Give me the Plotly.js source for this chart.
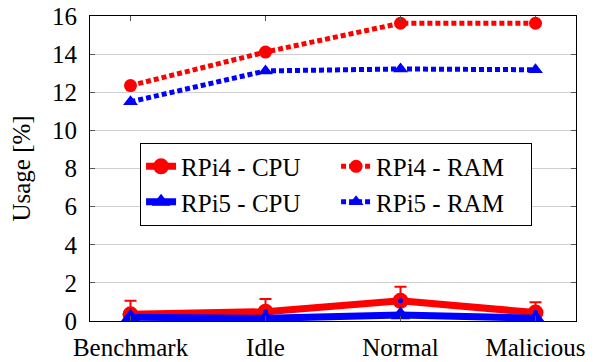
<!DOCTYPE html>
<html><head><meta charset="utf-8">
<script src="https://cdn.plot.ly/plotly-3.0.1.min.js"></script>
</head><body style="margin:0;background:#fff">
<div style="position:absolute;left:0;top:0;font-family:'Liberation Serif';font-size:25px;color:rgba(255,255,255,0)">.</div>
<div id="chart" style="width:596px;height:362px"></div>
<script>
const categories = ["Benchmark", "Idle", "Normal", "Malicious"];
const rpi4Cpu = [0.35, 0.49, 1.06, 0.44];
const rpi4CpuErr = [0.71, 0.66, 0.74, 0.54];
const rpi5Cpu = [0.2, 0.14, 0.31, 0.15];
const rpi4Ram = [12.35, 14.11, 15.62, 15.62];
const rpi5Ram = [11.5, 13.12, 13.22, 13.18];
const yTicks = [0, 2, 4, 6, 8, 10, 12, 14, 16];

const RED = "#ff0000", BLUE = "#0000ff";
const dots = "5px,3px";

const traces = [
  {name: "RPi4 - RAM", x: categories, y: rpi4Ram, mode: "lines+markers", legendrank: 2,
   line: {color: RED, width: 5, dash: dots},
   marker: {symbol: "circle", size: 13, color: RED}},
  {name: "RPi5 - RAM", x: categories, y: rpi5Ram, mode: "lines+markers", legendrank: 4,
   line: {color: BLUE, width: 5, dash: dots},
   marker: {symbol: "triangle-up", size: 13, color: BLUE}},
  {name: "RPi4 - CPU", x: categories, y: rpi4Cpu, mode: "lines+markers", legendrank: 1,
   line: {color: RED, width: 7},
   marker: {symbol: "circle", size: 16, color: RED},
   error_y: {type: "data", array: rpi4CpuErr, arrayminus: rpi4CpuErr.map(() => 0), symmetric: false,
             color: RED, thickness: 2, width: 6}},
  {x: categories, y: rpi4Cpu, mode: "markers", showlegend: false, hoverinfo: "skip",
   marker: {symbol: "circle", size: 5, color: BLUE}},
  {name: "RPi5 - CPU", x: categories, y: rpi5Cpu, mode: "lines+markers", legendrank: 3,
   line: {color: BLUE, width: 7},
   marker: {symbol: "triangle-up", size: 17, color: BLUE}}
];

Plotly.newPlot("chart", traces, {
  width: 596, height: 362,
  margin: {l: 90, r: 20, t: 16, b: 41},
  paper_bgcolor: "#fff", plot_bgcolor: "#fff",
  font: {family: "Liberation Serif", size: 25, color: "#000"},
  showlegend: true,
  legend: {
    x: 0.103, y: 0.585, xanchor: "left", yanchor: "top",
    orientation: "h", entrywidth: 150, entrywidthmode: "pixels",
    bgcolor: "#fff", bordercolor: "#000", borderwidth: 1, tracegroupgap: 0,
    font: {family: "Liberation Serif", size: 25, color: "#000"}
  },
  xaxis: {
    type: "category", categoryorder: "array", categoryarray: categories,
    range: [-0.3, 3.3], showgrid: false, zeroline: false,
    showline: true, linecolor: "#000", linewidth: 1, mirror: "ticks",
    ticks: "inside", ticklen: 5, tickcolor: "#555", tickwidth: 1,
    ticklabelstandoff: 4,
    tickfont: {family: "Liberation Serif", size: 25, color: "#000"}
  },
  yaxis: {
    range: [0, 16], tickvals: yTicks, ticktext: yTicks.map(String),
    showgrid: true, gridcolor: "#cfcfcf", gridwidth: 1, zeroline: false,
    showline: true, linecolor: "#000", linewidth: 1, mirror: "ticks",
    ticks: "inside", ticklen: 5, tickcolor: "#555", tickwidth: 1,
    ticklabelstandoff: 7,
    tickfont: {family: "Liberation Serif", size: 25, color: "#000"},
    title: {text: "Usage [%]", standoff: 14, font: {family: "Liberation Serif", size: 25, color: "#000"}}
  }
}, {displayModeBar: false});
</script>
</body></html>
